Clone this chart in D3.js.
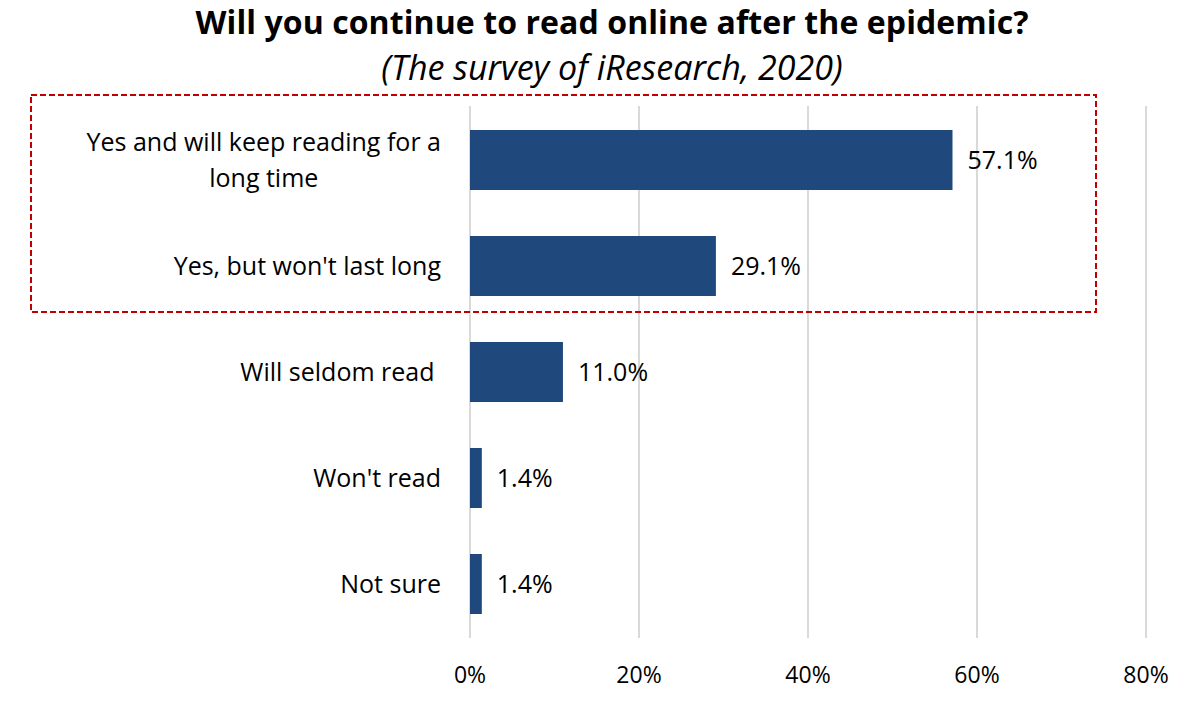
<!DOCTYPE html>
<html>
<head>
<meta charset="utf-8">
<script src="https://cdn.jsdelivr.net/npm/d3@7"></script>
<style>
  body { margin: 0; background: #fff; }
  text { font-family: "Open Sans", "Noto Sans", sans-serif; fill: #000; white-space: pre; }
</style>
</head>
<body>
<script>
// data van de grafiek
var categories = ["Yes and will keep reading for a|long time", "Yes, but won't last long", "Will seldom read ", "Won't read", "Not sure"];
var values = [57.1, 29.1, 11.0, 1.4, 1.4];
var tickValues = [0, 20, 40, 60, 80];

var margin = { top: 107, right: 54, bottom: 74, left: 470 },
    width = 1200 - margin.left - margin.right,
    height = 711 - margin.top - margin.bottom;

var svg = d3.select("body").append("svg")
    .attr("width", 1200)
    .attr("height", 711);

var g = svg.append("g")
    .attr("transform", "translate(" + margin.left + "," + margin.top + ")");

var x = d3.scaleLinear().domain([0, 80]).range([0, 676]);
var y = d3.scaleBand().domain(categories).range([0, height]).paddingInner(0.434).paddingOuter(0.217);

// titel en ondertitel
svg.append("text")
    .attr("x", 612).attr("y", 34)
    .attr("text-anchor", "middle")
    .attr("font-size", 32)
    .attr("font-weight", "bold")
    .attr("textLength", 833)
    .text("Will you continue to read online after the epidemic?");

svg.append("text")
    .attr("x", 612).attr("y", 80)
    .attr("text-anchor", "middle")
    .attr("font-size", 34)
    .attr("font-style", "italic")
    .text("(The survey of iResearch, 2020)");

// rasterlijnen
g.append("g")
    .selectAll("line")
    .data(tickValues)
    .enter().append("line")
    .attr("x1", function (d) { return x(d); })
    .attr("x2", function (d) { return x(d); })
    .attr("y1", -1)
    .attr("y2", height + 1)
    .attr("stroke", "#d9d9d9")
    .attr("stroke-width", 2);

// staven
g.append("g")
    .selectAll("rect")
    .data(values)
    .enter().append("rect")
    .attr("x", 0)
    .attr("y", function (d, i) { return y(categories[i]); })
    .attr("width", function (d) { return x(d); })
    .attr("height", y.bandwidth())
    .attr("fill", "#1f497d");

// waarde labels
g.append("g")
    .selectAll("text")
    .data(values)
    .enter().append("text")
    .attr("x", function (d) { return x(d) + 15; })
    .attr("y", function (d, i) { return y(categories[i]) + y.bandwidth() / 2; })
    .attr("dy", "0.35em")
    .attr("font-size", 25)
    .text(function (d) { return d.toFixed(1) + "%"; });

// categorie labels (rechts uitgelijnd, regels gecentreerd)
var labels = g.append("g")
    .selectAll("text")
    .data(categories)
    .enter().append("text")
    .attr("font-size", 25)
    .attr("text-anchor", "middle");

labels.each(function (d) {
    var el = d3.select(this);
    var lines = d.split("|");
    var cy = y(d) + y.bandwidth() / 2;
    var lh = 36;
    lines.forEach(function (l, j) {
        el.append("tspan")
            .attr("y", cy + (j - (lines.length - 1) / 2) * lh)
            .attr("dy", "0.35em")
            .text(l);
    });
    var maxW = 0;
    el.selectAll("tspan").each(function () {
        maxW = Math.max(maxW, this.getComputedTextLength());
    });
    el.selectAll("tspan").attr("x", -29 - maxW / 2);
});

// x-as labels
g.append("g")
    .selectAll("text")
    .data(tickValues)
    .enter().append("text")
    .attr("x", function (d) { return x(d); })
    .attr("y", height + 38)
    .attr("dy", "0.35em")
    .attr("text-anchor", "middle")
    .attr("font-size", 23)
    .text(function (d) { return d + "%"; });

// rood gestippeld kader
svg.append("rect")
    .attr("x", 31).attr("y", 95)
    .attr("width", 1065).attr("height", 217)
    .attr("fill", "none")
    .attr("stroke", "#c00000")
    .attr("stroke-width", 2)
    .attr("stroke-dasharray", "6,3");
</script>
</body>
</html>
